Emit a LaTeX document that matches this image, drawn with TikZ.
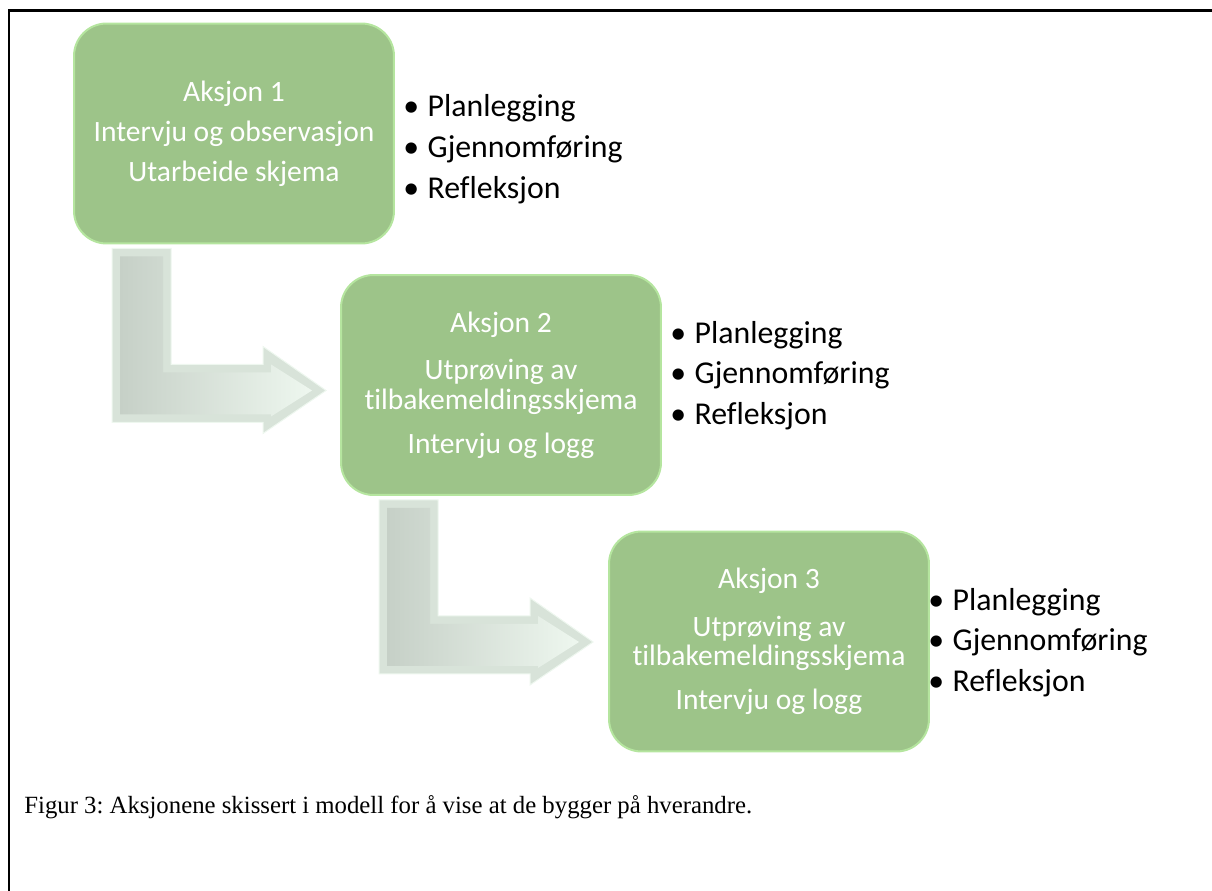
\documentclass[tikz,border=0pt]{standalone}
\usepackage{fontspec}
\setmainfont{Liberation Serif}
\newfontfamily\calibri[Ligatures=NoCommon]{Carlito}
\usetikzlibrary{calc}
\frenchspacing
\definecolor{aksjongreen}{HTML}{9DC489}
\definecolor{aksjonglow}{HTML}{B5E59F}
\definecolor{arrowdark}{HTML}{C6D0C7}
\definecolor{arrowmid}{HTML}{D8E3D9}
\definecolor{arrowlight}{HTML}{EEF7EF}
\tikzset{
	aksjon/.style={draw=aksjonglow, line width=0.04cm, fill=aksjongreen, rounded corners=0.65cm,
		minimum width=6.4cm, minimum height=4.4cm, text=white, align=center,
		font=\calibri\fontsize{16.8}{17}\selectfont},
	punkter/.style={anchor=west, align=left, inner sep=0pt,
		font=\calibri\fontsize{18.1}{23.2}\selectfont},
}
\newcommand{\punkt}[1]{\textbullet\hspace{0.17cm}#1}
\begin{document}
\begin{tikzpicture}[x=0.02cm,y=-0.02cm]
		\useasboundingbox (0,0) rectangle (1212,891);
		\draw[line width=0.06cm] (9,891) -- (9,11) -- (1212,11);
		\node[aksjon] (box1) at (234,133.5) {Aksjon 1\\[5.7pt] Intervju og observasjon\\[5.7pt] Utarbeide skjema};
		\node[aksjon] (box2) at (501,385) {Aksjon 2\\[10pt] Utprøving av\\ tilbakemeldingsskjema\\[8pt] Intervju og logg};
		\node[aksjon] (box3) at (769,641.5) {Aksjon 3\\[10pt] Utprøving av\\ tilbakemeldingsskjema\\[8pt] Intervju og logg};
		\node[punkter] (list1) at (403,149) {\punkt{Planlegging}\\ \punkt{Gjennomføring}\\ \punkt{Refleksjon}};
		\node[punkter] (list2) at (670,375.5) {\punkt{Planlegging}\\ \punkt{Gjennomføring}\\ \punkt{Refleksjon}};
		\node[punkter] (list3) at (928,642.5) {\punkt{Planlegging}\\ \punkt{Gjennomføring}\\ \punkt{Refleksjon}};
		% bent arrows from one box to the next
		\foreach \b in {box1,box2} {
			\filldraw[fill=arrowmid, draw=arrowlight, line width=0.02cm, shift={($(\b.south west)+(39,4)$)}] (0,0) -- (59,0) -- (59,116) -- (151,116) -- (151,98) -- (214,142) -- (151,185) -- (151,174) -- (0,174) -- cycle;
			\shade[left color=arrowdark, right color=arrowlight, shift={($(\b.south west)+(39,4)$)}] (8,8) -- (51,8) -- (51,124) -- (159,124) -- (159,116) -- (200,142) -- (159,168) -- (159,166) -- (8,166) -- cycle;
		}
		\node[anchor=base west, inner sep=0pt, font=\fontsize{14.1}{17}\selectfont] (caption) at (24,813) {Figur 3: Aksjonene skissert i modell for å vise at de bygger på hverandre.};
	\end{tikzpicture}
\end{document}
